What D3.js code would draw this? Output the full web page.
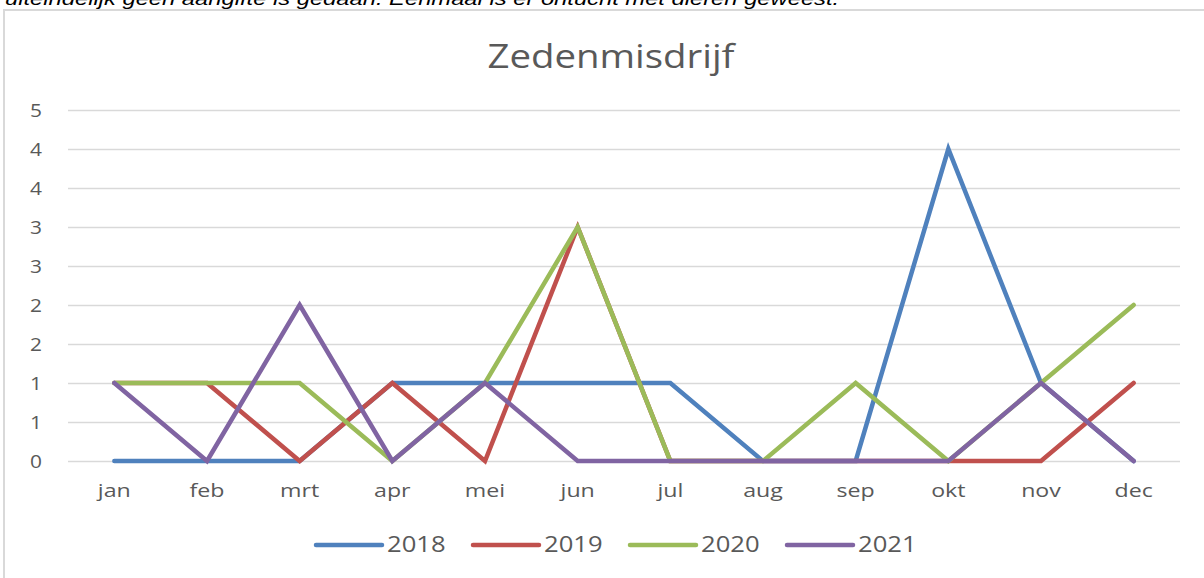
<!DOCTYPE html>
<html>
<head>
<meta charset="utf-8">
<script src="https://cdn.jsdelivr.net/npm/d3@7"></script>
<style>
  body { margin: 0; background: #fff; overflow: hidden; }
  text { font-family: "Open Sans", "Noto Sans", sans-serif; fill: #595959; }
</style>
</head>
<body>
<script>
// data
const months = ["jan", "feb", "mrt", "apr", "mei", "jun", "jul", "aug", "sep", "okt", "nov", "dec"];
const years = ["2018", "2019", "2020", "2021"];
const v2018 = [0, 0, 0, 1, 1, 1, 1, 0, 0, 4, 1, 0];
const v2019 = [1, 1, 0, 1, 0, 3, 0, 0, 0, 0, 0, 1];
const v2020 = [1, 1, 1, 0, 1, 3, 0, 0, 1, 0, 1, 2];
const v2021 = [1, 0, 2, 0, 1, 0, 0, 0, 0, 0, 1, 0];
const yTicks = [0, 0.5, 1, 1.5, 2, 2.5, 3, 3.5, 4, 4.5];
const yTickLabels = ["0", "1", "1", "2", "2", "3", "3", "4", "4", "5"];
const colors = ["#4F81BD", "#C0504D", "#9BBB59", "#8064A2"];

const series = [v2018, v2019, v2020, v2021];

var width = 1204, height = 578;
var svg = d3.select("body").append("svg")
    .attr("width", width)
    .attr("height", height);

// the screenshot is a bit wider than tall, so text is stretched sideways
function stretch(sel, sx, cx) {
    sel.attr("transform", "translate(" + cx + ",0) scale(" + sx + ",1) translate(" + (-cx) + ",0)");
}

// leftover line of text from the page above the chart
svg.append("text")
    .attr("x", 5).attr("y", 5)
    .style("font-family", "'Liberation Sans', Arial, sans-serif")
    .style("font-style", "italic")
    .style("font-size", "19px")
    .style("fill", "#000")
    .text("uiteindelijk geen aangifte is gedaan. Eenmaal is er ontucht met dieren geweest.")
    .call(stretch, 1.25, 5);

// chart frame
svg.append("rect")
    .attr("x", 4).attr("y", 10)
    .attr("width", 1220).attr("height", 580)
    .attr("fill", "none")
    .attr("stroke", "#d9d9d9")
    .attr("stroke-width", 2);

var x = d3.scaleBand().domain(months).range([68, 1180]);
var y = d3.scaleLinear().domain([0, 4.5]).range([461, 110]);

// title
svg.append("text")
    .attr("x", 611).attr("y", 68)
    .attr("text-anchor", "middle")
    .style("font-size", "32px")
    .text("Zedenmisdrijf")
    .call(stretch, 1.2, 611);

// gridlines + y labels
var yAxis = d3.axisLeft(y)
    .tickValues(yTicks)
    .tickSize(-(1180 - 68))
    .tickPadding(26)
    .tickFormat((d, i) => yTickLabels[i]);

var gy = svg.append("g").attr("transform", "translate(68,0)").call(yAxis);
gy.select(".domain").remove();
gy.selectAll(".tick line").attr("stroke", "#d9d9d9").attr("stroke-width", 1.3);
gy.selectAll(".tick text").style("font-size", "19px").attr("fill", "#595959")
    .call(stretch, 1.1, -26);

// x labels
var xAxis = d3.axisBottom(x).tickSize(0).tickPadding(23);
var gx = svg.append("g").attr("transform", "translate(0,461)").call(xAxis);
gx.select(".domain").remove();
gx.selectAll(".tick text").style("font-size", "19px").attr("fill", "#595959")
    .call(stretch, 1.22, 0);

// lines
var line = d3.line()
    .x((d, i) => x(months[i]) + x.bandwidth() / 2)
    .y(d => y(d));

svg.append("g").selectAll("path")
    .data(series)
    .enter().append("path")
    .attr("d", line)
    .attr("fill", "none")
    .attr("stroke", (d, i) => colors[i])
    .attr("stroke-width", 4.5)
    .attr("stroke-linejoin", "miter")
    .attr("stroke-linecap", "round");

// legend
var legend = svg.append("g").selectAll("g")
    .data(years)
    .enter().append("g")
    .attr("transform", (d, i) => "translate(" + (316 + i * 157) + ",545)");

legend.append("line")
    .attr("x1", 0).attr("x2", 66)
    .attr("stroke", (d, i) => colors[i])
    .attr("stroke-width", 4.5)
    .attr("stroke-linecap", "round");

legend.append("text")
    .attr("x", 71).attr("y", 7)
    .style("font-size", "21px")
    .text(d => d)
    .call(stretch, 1.22, 71);
</script>
</body>
</html>
